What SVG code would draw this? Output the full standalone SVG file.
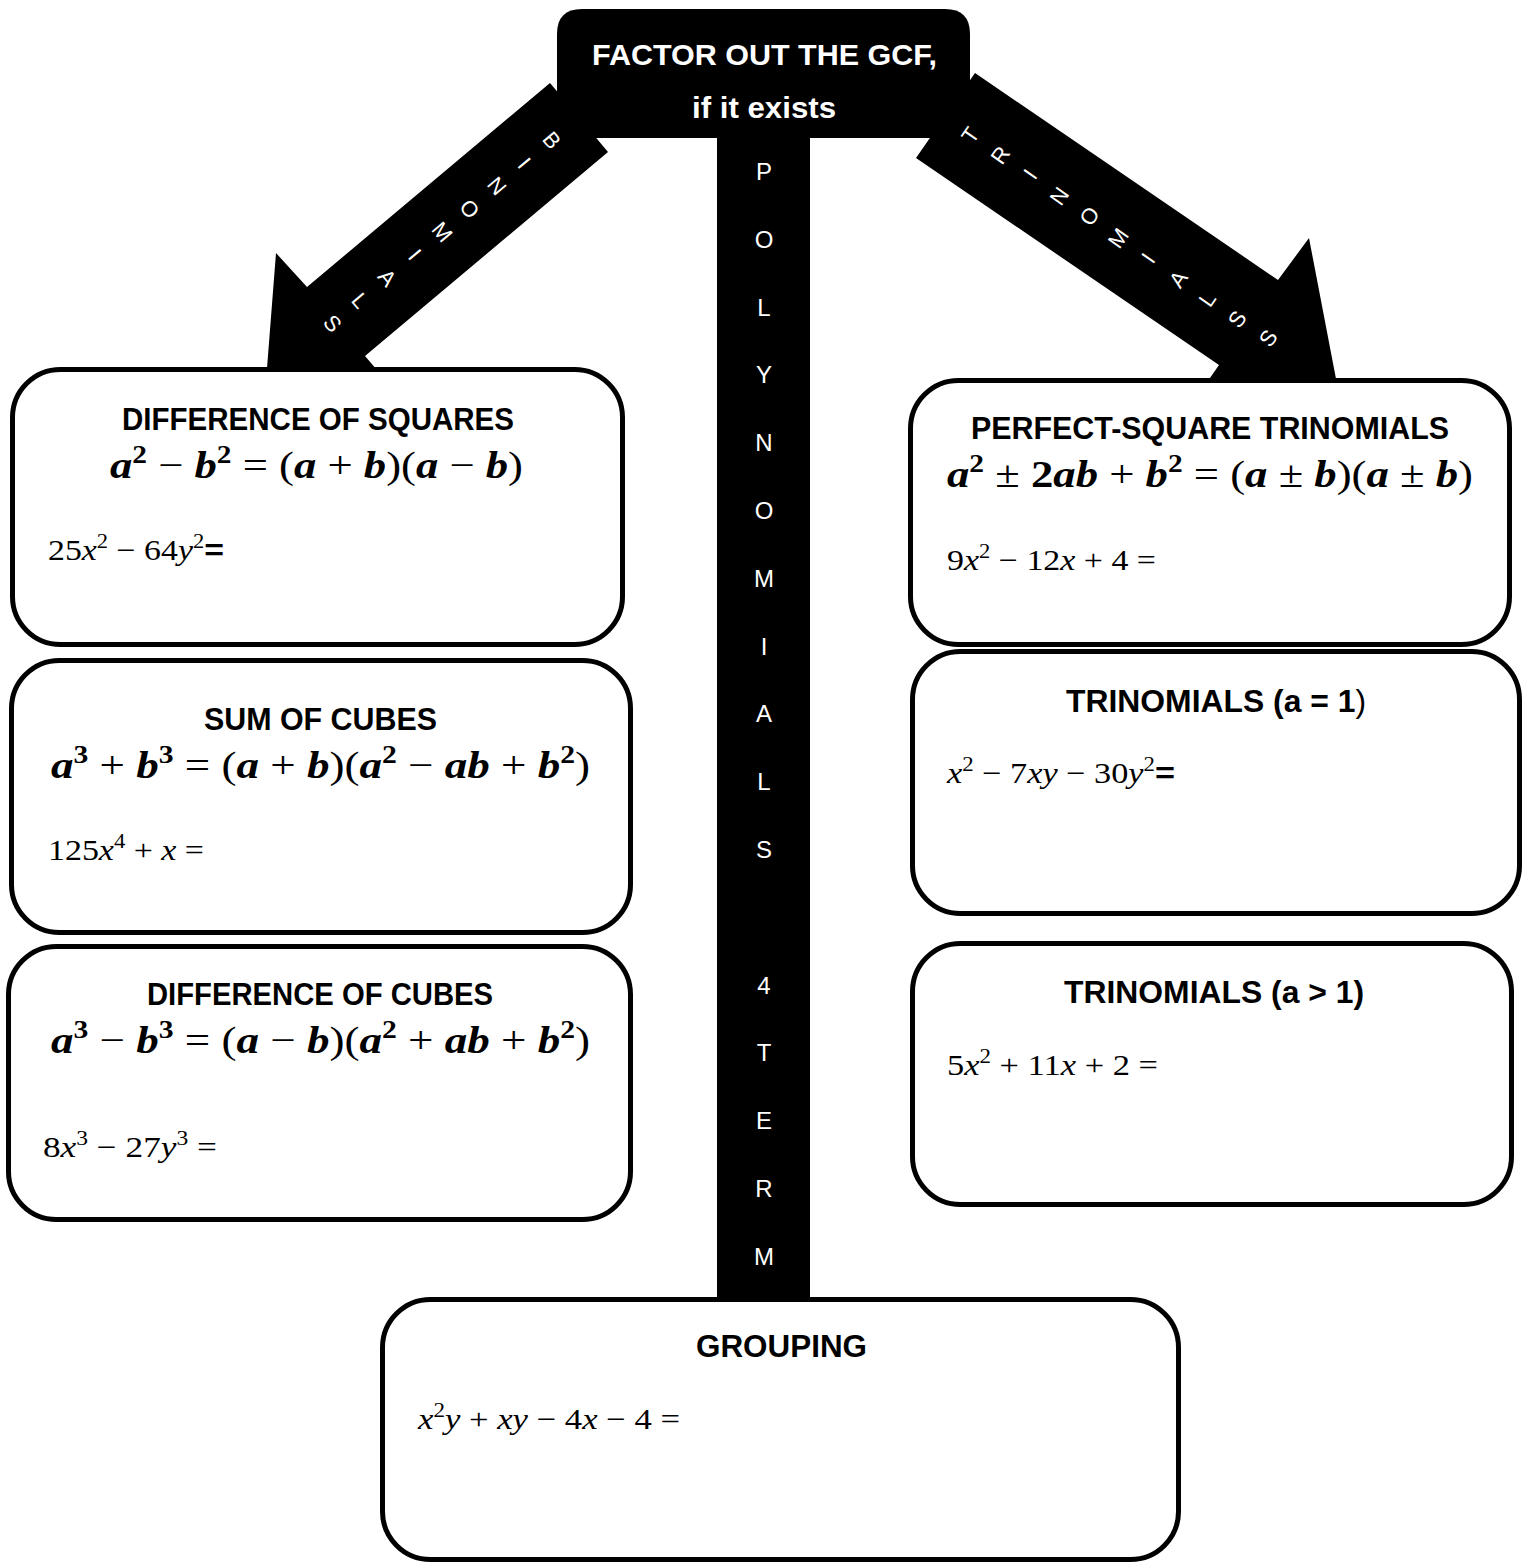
<svg xmlns="http://www.w3.org/2000/svg" width="1527" height="1564" viewBox="0 0 1527 1564">
<style>
.box{fill:#fff;stroke:#000;stroke-width:5}
.conn{fill:#000}
.h{font-family:"Liberation Sans",Arial,sans-serif;font-weight:bold;font-size:32px;fill:#000}
.top{font-family:"Liberation Sans",Arial,sans-serif;font-weight:bold;font-size:30px;fill:#fff}
.fm{font-family:"Liberation Serif","DejaVu Serif",serif;font-size:38px;fill:#000}
.ex{font-family:"Liberation Serif","DejaVu Serif",serif;font-size:30px;fill:#000}
.v{font-weight:bold;font-style:italic}
.vb{font-weight:bold}
.i{font-style:italic}
.s{font-size:25px}
.se{font-size:20px}
.lt{font-family:"Liberation Sans",Arial,sans-serif;font-size:24px;fill:#fff;text-anchor:middle}
.la{font-family:"Liberation Sans",Arial,sans-serif;font-size:22px;fill:#fff;text-anchor:middle}
</style>
<rect width="1527" height="1564" fill="#fff"/>
<g id="node-gcf">
  <path d="M557,138 V34 Q557,9 582,9 H945 Q970,9 970,34 V138 Z" fill="#000"/>
  <text class="top" x="592" y="65" textLength="345" lengthAdjust="spacingAndGlyphs">FACTOR OUT THE GCF,</text>
  <text class="top" x="692" y="118" textLength="144" lengthAdjust="spacingAndGlyphs">if it exists</text>
</g>
<g id="connectors">
  <rect id="stem" class="conn" x="717" y="130" width="93" height="1172"/>
  <polygon id="arrow-binomials" class="conn" points="550,83 307,287 276,253 266,381 395,391 365,356 608,152"/>
  <polygon id="arrow-trinomials" class="conn" points="975,73 1278,280 1309,238 1337,384 1189,408 1219,365 916,158"/>
  <g id="stem-label">
    <text class="lt" x="764" y="180">P</text>
    <text class="lt" x="764" y="248">O</text>
    <text class="lt" x="764" y="316">L</text>
    <text class="lt" x="764" y="383">Y</text>
    <text class="lt" x="764" y="451">N</text>
    <text class="lt" x="764" y="519">O</text>
    <text class="lt" x="764" y="587">M</text>
    <text class="lt" x="764" y="655">I</text>
    <text class="lt" x="764" y="722">A</text>
    <text class="lt" x="764" y="790">L</text>
    <text class="lt" x="764" y="858">S</text>
    <text class="lt" x="764" y="994">4</text>
    <text class="lt" x="764" y="1061">T</text>
    <text class="lt" x="764" y="1129">E</text>
    <text class="lt" x="764" y="1197">R</text>
    <text class="lt" x="764" y="1265">M</text>
  </g>
  <g id="binomials-label">
    <text class="la" transform="translate(552,140) rotate(50)" y="8">B</text>
    <text class="la" transform="translate(524.6,162.9) rotate(50)" y="8">I</text>
    <text class="la" transform="translate(497.2,185.8) rotate(50)" y="8">N</text>
    <text class="la" transform="translate(469.8,208.7) rotate(50)" y="8">O</text>
    <text class="la" transform="translate(442.4,231.6) rotate(50)" y="8">M</text>
    <text class="la" transform="translate(415,254.5) rotate(50)" y="8">I</text>
    <text class="la" transform="translate(387.6,277.4) rotate(50)" y="8">A</text>
    <text class="la" transform="translate(360.2,300.3) rotate(50)" y="8">L</text>
    <text class="la" transform="translate(332.8,323.2) rotate(50)" y="8">S</text>
  </g>
  <g id="trinomials-label">
    <text class="la" transform="translate(970,135) rotate(-55)" y="8">T</text>
    <text class="la" transform="translate(1000,155) rotate(-55)" y="8">R</text>
    <text class="la" transform="translate(1030,174) rotate(-55)" y="8">I</text>
    <text class="la" transform="translate(1059,196) rotate(-55)" y="8">N</text>
    <text class="la" transform="translate(1089,216) rotate(-55)" y="8">O</text>
    <text class="la" transform="translate(1118,238) rotate(-55)" y="8">M</text>
    <text class="la" transform="translate(1148,258) rotate(-55)" y="8">I</text>
    <text class="la" transform="translate(1178,279) rotate(-55)" y="8">A</text>
    <text class="la" transform="translate(1207,299) rotate(-55)" y="8">L</text>
    <text class="la" transform="translate(1237,319) rotate(-55)" y="8">S</text>
    <text class="la" transform="translate(1268,338) rotate(-55)" y="8">S</text>
  </g>
</g>
<g id="node-diff-squares">
  <rect class="box" x="12.5" y="369.5" width="610" height="275" rx="48"/>
  <text class="h" x="122" y="430" textLength="392" lengthAdjust="spacingAndGlyphs">DIFFERENCE OF SQUARES</text>
  <text class="fm" x="110" y="478" textLength="413" lengthAdjust="spacingAndGlyphs"><tspan class="v">a</tspan><tspan class="vb s" dy="-15">2</tspan><tspan dy="15"> − </tspan><tspan class="v">b</tspan><tspan class="vb s" dy="-15">2</tspan><tspan dy="15"> = (</tspan><tspan class="v">a</tspan> + <tspan class="v">b</tspan>)(<tspan class="v">a</tspan> − <tspan class="v">b</tspan>)</text>
  <text class="ex" x="48" y="560" textLength="176" lengthAdjust="spacingAndGlyphs">25<tspan class="i">x</tspan><tspan class="se" dy="-12">2</tspan><tspan dy="12"> − 64</tspan><tspan class="i">y</tspan><tspan class="se" dy="-12">2</tspan><tspan dy="12" font-family="Liberation Sans" font-weight="bold">=</tspan></text>
</g>
<g id="node-sum-cubes">
  <rect class="box" x="11.5" y="660.5" width="619" height="272" rx="48"/>
  <text class="h" x="204" y="730" textLength="233" lengthAdjust="spacingAndGlyphs">SUM OF CUBES</text>
  <text class="fm" x="51" y="778" textLength="539" lengthAdjust="spacingAndGlyphs"><tspan class="v">a</tspan><tspan class="vb s" dy="-15">3</tspan><tspan dy="15"> + </tspan><tspan class="v">b</tspan><tspan class="vb s" dy="-15">3</tspan><tspan dy="15"> = (</tspan><tspan class="v">a</tspan> + <tspan class="v">b</tspan>)(<tspan class="v">a</tspan><tspan class="vb s" dy="-15">2</tspan><tspan dy="15"> − </tspan><tspan class="v">ab</tspan> + <tspan class="v">b</tspan><tspan class="vb s" dy="-15">2</tspan><tspan dy="15">)</tspan></text>
  <text class="ex" x="48" y="860" textLength="156" lengthAdjust="spacingAndGlyphs">125<tspan class="i">x</tspan><tspan class="se" dy="-12">4</tspan><tspan dy="12"> + </tspan><tspan class="i">x</tspan> =</text>
</g>
<g id="node-diff-cubes">
  <rect class="box" x="8.5" y="946.5" width="622" height="273" rx="48"/>
  <text class="h" x="147" y="1005" textLength="346" lengthAdjust="spacingAndGlyphs">DIFFERENCE OF CUBES</text>
  <text class="fm" x="51" y="1053" textLength="539" lengthAdjust="spacingAndGlyphs"><tspan class="v">a</tspan><tspan class="vb s" dy="-15">3</tspan><tspan dy="15"> − </tspan><tspan class="v">b</tspan><tspan class="vb s" dy="-15">3</tspan><tspan dy="15"> = (</tspan><tspan class="v">a</tspan> − <tspan class="v">b</tspan>)(<tspan class="v">a</tspan><tspan class="vb s" dy="-15">2</tspan><tspan dy="15"> + </tspan><tspan class="v">ab</tspan> + <tspan class="v">b</tspan><tspan class="vb s" dy="-15">2</tspan><tspan dy="15">)</tspan></text>
  <text class="ex" x="43" y="1157" textLength="174" lengthAdjust="spacingAndGlyphs">8<tspan class="i">x</tspan><tspan class="se" dy="-12">3</tspan><tspan dy="12"> − 27</tspan><tspan class="i">y</tspan><tspan class="se" dy="-12">3</tspan><tspan dy="12"> =</tspan></text>
</g>
<g id="node-perfect-square">
  <rect class="box" x="910.5" y="380.5" width="599" height="264" rx="48"/>
  <text class="h" x="971" y="439" textLength="478" lengthAdjust="spacingAndGlyphs">PERFECT-SQUARE TRINOMIALS</text>
  <text class="fm" x="947" y="487" textLength="526" lengthAdjust="spacingAndGlyphs"><tspan class="v">a</tspan><tspan class="vb s" dy="-15">2</tspan><tspan dy="15"> ± </tspan><tspan class="vb">2</tspan><tspan class="v">ab</tspan> + <tspan class="v">b</tspan><tspan class="vb s" dy="-15">2</tspan><tspan dy="15"> = (</tspan><tspan class="v">a</tspan> ± <tspan class="v">b</tspan>)(<tspan class="v">a</tspan> ± <tspan class="v">b</tspan>)</text>
  <text class="ex" x="947" y="570" textLength="209" lengthAdjust="spacingAndGlyphs">9<tspan class="i">x</tspan><tspan class="se" dy="-12">2</tspan><tspan dy="12"> − 12</tspan><tspan class="i">x</tspan> + 4 =</text>
</g>
<g id="node-trinomials-a1">
  <rect class="box" x="912.5" y="651.5" width="607" height="262" rx="48"/>
  <text class="h" x="1066" y="712" textLength="300" lengthAdjust="spacingAndGlyphs">TRINOMIALS (a = 1<tspan font-weight="normal">)</tspan></text>
  <text class="ex" x="947" y="783" textLength="228" lengthAdjust="spacingAndGlyphs"><tspan class="i">x</tspan><tspan class="se" dy="-12">2</tspan><tspan dy="12"> − 7</tspan><tspan class="i">xy</tspan> − 30<tspan class="i">y</tspan><tspan class="se" dy="-12">2</tspan><tspan dy="12" font-family="Liberation Sans" font-weight="bold">=</tspan></text>
</g>
<g id="node-trinomials-agt1">
  <rect class="box" x="912.5" y="943.5" width="599" height="261" rx="48"/>
  <text class="h" x="1064" y="1003" textLength="300" lengthAdjust="spacingAndGlyphs">TRINOMIALS (a &gt; 1)</text>
  <text class="ex" x="947" y="1075" textLength="211" lengthAdjust="spacingAndGlyphs">5<tspan class="i">x</tspan><tspan class="se" dy="-12">2</tspan><tspan dy="12"> + 11</tspan><tspan class="i">x</tspan> + 2 =</text>
</g>
<g id="node-grouping">
  <rect class="box" x="382.5" y="1299.5" width="796" height="260" rx="48"/>
  <text class="h" x="696" y="1357" textLength="171" lengthAdjust="spacingAndGlyphs">GROUPING</text>
  <text class="ex" x="418" y="1429" textLength="262" lengthAdjust="spacingAndGlyphs"><tspan class="i">x</tspan><tspan class="se" dy="-12">2</tspan><tspan class="i" dy="12">y</tspan> + <tspan class="i">xy</tspan> − 4<tspan class="i">x</tspan> − 4 =</text>
</g>
</svg>
